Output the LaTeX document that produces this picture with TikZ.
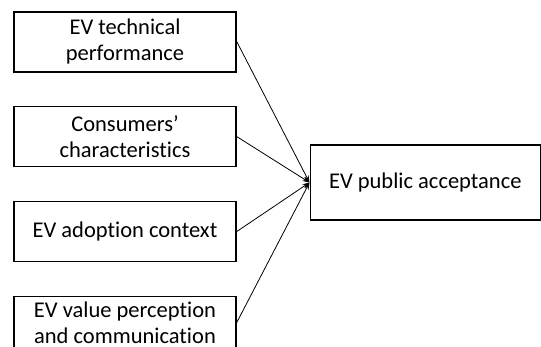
\documentclass[tikz,border=0pt]{standalone}
\usepackage{fontspec}
\setmainfont{Carlito}[Ligatures=NoCommon]
\usetikzlibrary{positioning,arrows.meta}

\begin{document}
\begin{tikzpicture}[x=1pt,y=1pt,>={Stealth[length=7pt,width=5pt]},
  factor node/.style={rectangle,draw,line width=1.6pt,minimum width=222pt,minimum height=60pt,align=center,font=\fontsize{22.5}{26}\selectfont},
  target node/.style={rectangle,draw,line width=1.6pt,minimum width=230pt,minimum height=75pt,font=\fontsize{22.5}{26}\selectfont}]

  \useasboundingbox (0,0) rectangle (541,-346);

  \node[factor node] (1) at (125,-41.7) {EV technical\\performance};
  \node[factor node] (2) [below=33.3pt of 1] {Consumers’\\characteristics};
  \node[factor node] (3) [below=33.3pt of 2] {EV adoption context};
  \node[factor node,text depth=7pt] (4) [below=33.3pt of 3] {EV value perception\\and communication};
  \node[target node] (5) at (425.3,-182.5) {EV public acceptance};

  \path[->,line width=0.8pt]
    (1.east) edge (5.west)
    (2.east) edge (5.west)
    (3.east) edge (5.west)
    ([yshift=4pt]4.east) edge (5.west);
\end{tikzpicture}
\end{document}
